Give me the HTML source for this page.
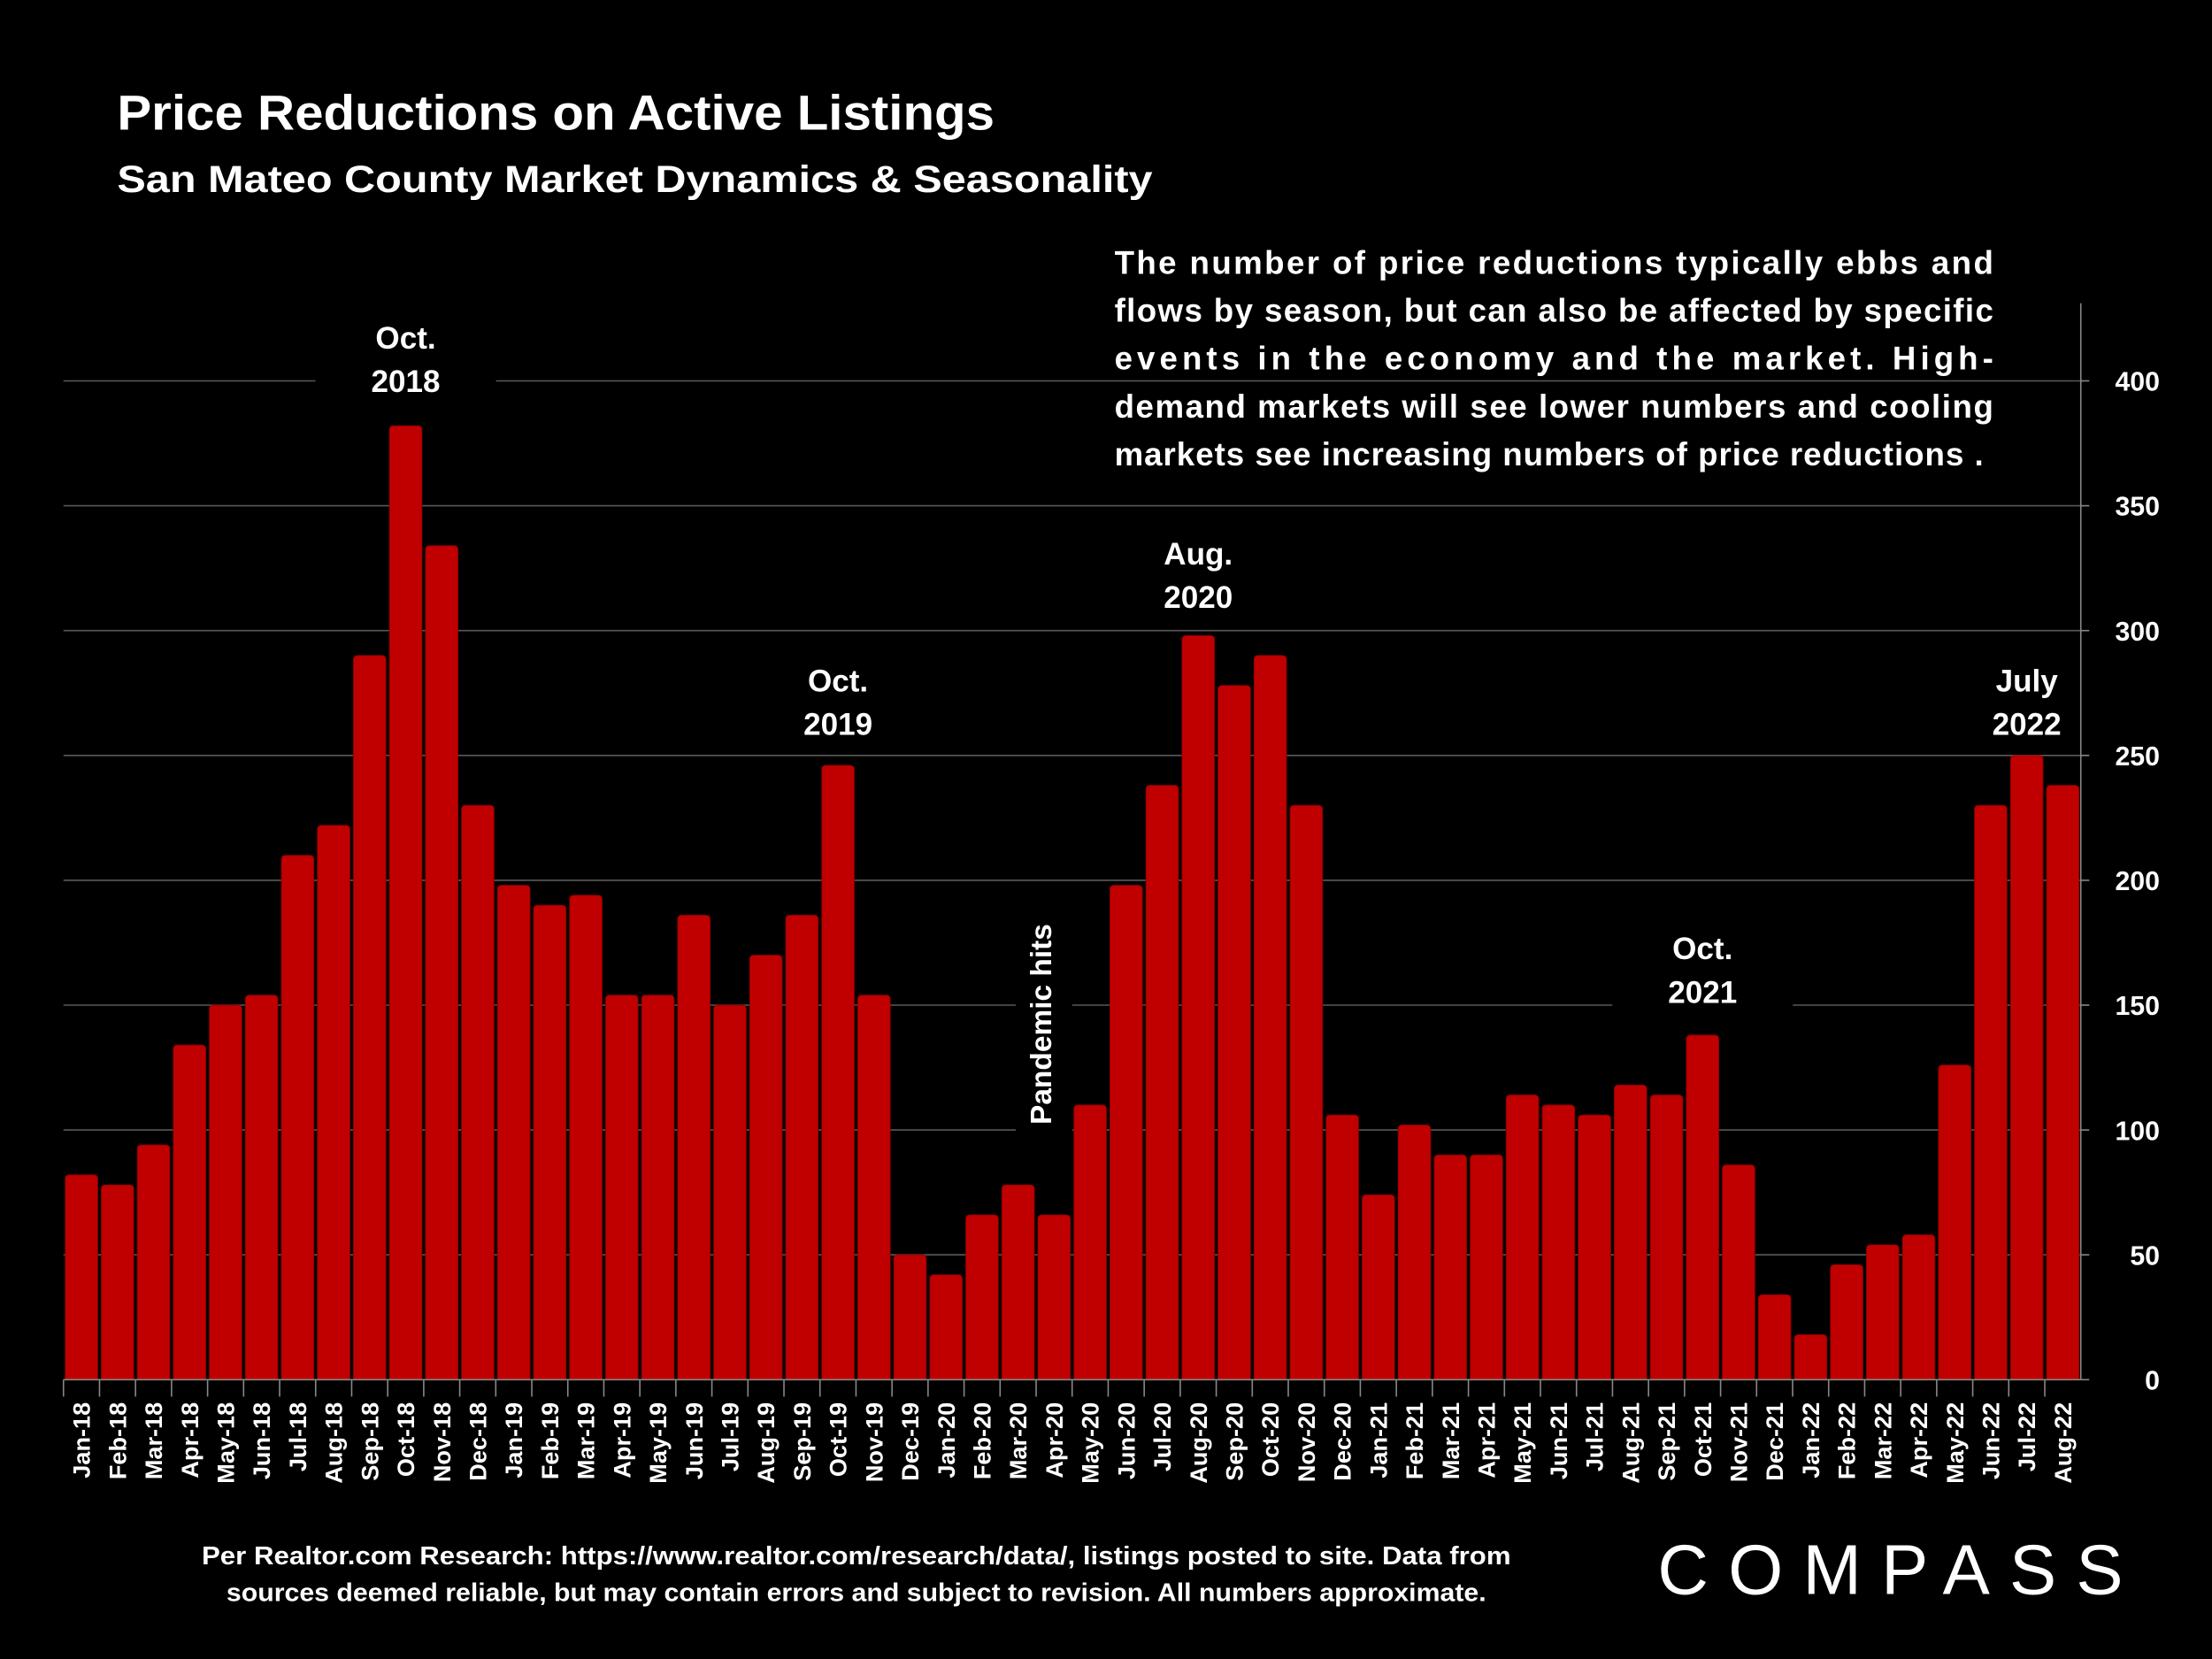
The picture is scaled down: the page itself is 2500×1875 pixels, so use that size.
<!DOCTYPE html>
<html><head><meta charset="utf-8"><style>
html,body{margin:0;padding:0;background:#000;}
svg{display:block;}
text{font-family:"Liberation Sans","DejaVu Sans",sans-serif;fill:#fff;font-weight:bold;}
</style></head><body>
<svg id="chart" width="2500" height="1875" viewBox="0 0 1568 1176" xmlns="http://www.w3.org/2000/svg">
<rect width="1568" height="1176" fill="#000"/>
<text x="83" y="92" font-size="35" textLength="622" lengthAdjust="spacingAndGlyphs">Price Reductions on Active Listings</text>
<text x="83" y="136" font-size="27" textLength="734" lengthAdjust="spacingAndGlyphs">San Mateo County Market Dynamics &amp; Seasonality</text>
<g id="grid"></g>
<g id="bars"></g>
<g id="notes"></g>
<g id="axes"></g>
<g font-size="23">
<text x="790" y="194" textLength="623" lengthAdjust="spacing">The number of price reductions typically ebbs and</text>
<text x="790" y="228" textLength="623" lengthAdjust="spacing">flows by season, but can also be affected by specific</text>
<text x="790" y="262" textLength="623" lengthAdjust="spacing">events in the economy and the market. High-</text>
<text x="790" y="296" textLength="623" lengthAdjust="spacing">demand markets will see lower numbers and cooling</text>
<text x="790" y="330" textLength="616" lengthAdjust="spacing">markets see increasing numbers of price reductions .</text>
</g>
<g font-size="18" text-anchor="middle">
<text x="607" y="1109" textLength="928" lengthAdjust="spacingAndGlyphs">Per Realtor.com Research:  https://www.realtor.com/research/data/, listings posted to site. Data from</text>
<text x="607" y="1135" textLength="893" lengthAdjust="spacingAndGlyphs">sources deemed reliable, but may contain errors and subject to revision. All numbers approximate.</text>
</g>
<text x="1175" y="1130" font-size="50" style="font-weight:normal" textLength="330" lengthAdjust="spacing">COMPASS</text>
</svg>
<script>
const categories = ["Jan-18","Feb-18","Mar-18","Apr-18","May-18","Jun-18","Jul-18","Aug-18","Sep-18","Oct-18","Nov-18","Dec-18","Jan-19","Feb-19","Mar-19","Apr-19","May-19","Jun-19","Jul-19","Aug-19","Sep-19","Oct-19","Nov-19","Dec-19","Jan-20","Feb-20","Mar-20","Apr-20","May-20","Jun-20","Jul-20","Aug-20","Sep-20","Oct-20","Nov-20","Dec-20","Jan-21","Feb-21","Mar-21","Apr-21","May-21","Jun-21","Jul-21","Aug-21","Sep-21","Oct-21","Nov-21","Dec-21","Jan-22","Feb-22","Mar-22","Apr-22","May-22","Jun-22","Jul-22","Aug-22"];
const values = [82,78,94,134,150,154,210,222,290,382,334,230,198,190,194,154,154,186,150,170,186,246,154,50,42,66,78,66,110,198,238,298,278,290,230,106,74,102,90,90,114,110,106,118,114,138,86,34,18,46,54,58,126,230,250,238];
const yTicks = [0,50,100,150,200,250,300,350,400];
const annotations = [
 {idx:9, lines:["Oct.","2018"], y:247},
 {idx:21, lines:["Oct.","2019"], y:490},
 {idx:31, lines:["Aug.","2020"], y:400},
 {idx:45, lines:["Oct.","2021"], y:680},
 {idx:54, lines:["July","2022"], y:490}
];
const NS="http://www.w3.org/2000/svg";
const X0=45, X1=1475, Y0=978, Y400=270;
const band=(X1-X0)/categories.length;
function xScale(i){return X0+i*band;}
function yScale(v){return Y0-(v/400)*(Y0-Y400);}
function mk(tag,attrs,parent){const e=document.createElementNS(NS,tag);for(const k in attrs)e.setAttribute(k,attrs[k]);parent.appendChild(e);return e;}
const grid=document.getElementById('grid'),bars=document.getElementById('bars'),axes=document.getElementById('axes'),notes=document.getElementById('notes');
yTicks.forEach(t=>{
 if(t>0){const l=mk('line',{x1:X0,x2:X1,y1:yScale(t),y2:yScale(t),stroke:'#595959','stroke-width':1},grid);
 
 }
 const tk=mk('line',{x1:X1,x2:X1+6,y1:yScale(t),y2:yScale(t),stroke:'#888','stroke-width':1},axes);
 
 
 const tx=mk('text',{x:1531,y:yScale(t)+7,'font-size':19,'text-anchor':'end'},axes);
 tx.textContent=t;
 
 
});
const ra=mk('line',{x1:X1,x2:X1,y1:215,y2:Y0,stroke:'#888','stroke-width':1},axes);


const xa=mk('line',{x1:X0,x2:X1,y1:Y0,y2:Y0,stroke:'#888','stroke-width':1},axes);


const bw=23;
values.forEach((v,i)=>{
 const x=xScale(i)+(band-bw)/2, y=yScale(v), r=Math.min(3,(Y0-y)/2);
 const p=mk('path',{d:`M${x},${Y0}V${y+r}Q${x},${y} ${x+r},${y}H${x+bw-r}Q${x+bw},${y} ${x+bw},${y+r}V${Y0}Z`,fill:'#c00000',stroke:'#8a0000','stroke-width':0.6},bars);
 
 
});
categories.forEach((c,i)=>{
 const tk=mk('line',{x1:xScale(i),x2:xScale(i),y1:Y0,y2:Y0+12,stroke:'#888','stroke-width':1},axes);
 
 
 const cx=xScale(i)+band/2+6, cy=994;
 const t=mk('text',{x:cx,y:cy,'font-size':17,'text-anchor':'end',transform:`rotate(-90 ${cx} ${cy})`},axes);
 t.textContent=c;
 
 
});
annotations.forEach(a=>{
 const cx=xScale(a.idx)+band/2;
 const bg=mk('rect',{x:cx-64,y:a.y-25,width:128,height:62,fill:'#000'},notes);
 
 
 a.lines.forEach((ln,k)=>{
  const t=mk('text',{x:cx,y:a.y+k*31,'font-size':22,'text-anchor':'middle'},notes);
  t.textContent=ln;
  
  
 });
});
const pbg=mk('rect',{x:720,y:640,width:40,height:170,fill:'#000'},notes);


const pt=mk('text',{x:745,y:726,'font-size':21,'text-anchor':'middle',transform:'rotate(-90 745 726)'},notes);
pt.textContent='Pandemic hits';


</script>
</body></html>
